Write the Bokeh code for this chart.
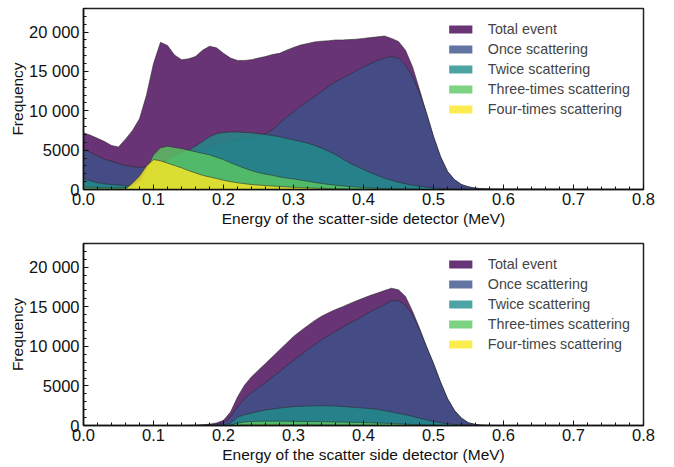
import numpy as np
from bokeh.plotting import figure
from bokeh.layouts import column
from bokeh.models import FixedTicker, NumeralTickFormatter, Legend, LegendItem, Range1d
from bokeh.embed import file_html
from bokeh.resources import INLINE

# Energy bins (MeV)
energy = [round(0.01 * i, 2) for i in range(81)]

series_names = ["Total event", "Once scattering", "Twice scattering",
                "Three-times scattering", "Four-times scattering"]
series_colors = ["#440154", "#3B518A", "#208F8C", "#5BC862", "#FDE724"]

# ---- top panel: scatter-side detector ----
top_total = [7200, 6900, 6500, 6100, 5600, 5400, 6400, 7500, 9000, 12000,
             16000, 18700, 18300, 17100, 16500, 16600, 16900, 17700, 18200, 18000,
             17300, 16700, 16400, 16400, 16500, 16700, 16900, 17150, 17300, 17700,
             18050, 18350, 18550, 18750, 18850, 18900, 19000, 19000, 19050, 19100,
             19200, 19300, 19400, 19500, 19200, 18800, 17700, 15600, 12700, 9700,
             6750, 4200, 2300, 1250, 630, 340, 170, 100, 70, 55,
             45, 40, 38, 35, 32, 30, 28, 26, 24, 22,
             20, 18, 16, 14, 12, 10, 9, 8, 7, 6, 5]
top_once = [5200, 4700, 4250, 3850, 3600, 3300, 3050, 2900, 2800, 2900,
            3100, 3400, 3700, 4000, 4300, 4600, 4900, 5200, 5500, 5800,
            6000, 6200, 6350, 6500, 6650, 6850, 7100, 7600, 8400, 9200,
            9900, 10550, 11200, 11800, 12450, 13100, 13700, 14150, 14600, 15100,
            15600, 16000, 16400, 16700, 16900, 16700, 15800, 14350, 12250, 9700,
            6700, 4150, 2280, 1240, 620, 330, 165, 95, 65, 50,
            42, 38, 35, 32, 30, 28, 26, 24, 22, 20,
            18, 16, 14, 12, 11, 10, 9, 8, 7, 6, 5]
top_twice = [1400, 1100, 850, 720, 630, 560, 500, 450, 450, 900,
             1900, 3000, 3800, 4300, 4700, 5000, 5500, 6100, 6700, 7100,
             7250, 7300, 7300, 7250, 7200, 7100, 7000, 6850, 6700, 6500,
             6300, 6100, 5900, 5600, 5270, 4850, 4430, 3900, 3380, 2950,
             2530, 2150, 1770, 1450, 1180, 920, 720, 550, 420, 300,
             210, 140, 80, 50, 30, 20, 10, 5, 3, 2,
             0, 0, 0, 0, 0, 0, 0, 0, 0, 0,
             0, 0, 0, 0, 0, 0, 0, 0, 0, 0, 0]
top_three = [300, 280, 260, 240, 220, 220, 250, 450, 1100, 2600,
             4400, 5300, 5500, 5350, 5200, 5000, 4800, 4600, 4400, 4100,
             3800, 3400, 3050, 2700, 2400, 2150, 1950, 1800, 1600, 1450,
             1350, 1200, 1050, 900, 760, 650, 550, 460, 380, 310,
             250, 200, 160, 120, 80, 60, 40, 25, 15, 10,
             5, 0, 0, 0, 0, 0, 0, 0, 0, 0,
             0, 0, 0, 0, 0, 0, 0, 0, 0, 0,
             0, 0, 0, 0, 0, 0, 0, 0, 0, 0, 0]
top_four = [50, 45, 40, 35, 30, 30, 50, 800, 1700, 3000,
            3800, 3650, 3350, 3050, 2750, 2400, 2100, 1800, 1600, 1400,
            1180, 1000, 850, 740, 630, 560, 500, 440, 380, 330,
            280, 240, 200, 170, 140, 110, 90, 70, 55, 40,
            30, 20, 15, 10, 5, 0, 0, 0, 0, 0,
            0, 0, 0, 0, 0, 0, 0, 0, 0, 0,
            0, 0, 0, 0, 0, 0, 0, 0, 0, 0,
            0, 0, 0, 0, 0, 0, 0, 0, 0, 0, 0]

# ---- bottom panel: scatter side detector ----
bot_total = [0, 0, 0, 0, 0, 0, 0, 0, 0, 0,
             0, 0, 0, 0, 0, 5, 30, 85, 170, 320,
             650, 1700, 3600, 5100, 6150, 7000, 7850, 8700, 9550, 10400,
             11250, 11950, 12600, 13250, 13800, 14250, 14650, 15000, 15400, 15750,
             16100, 16450, 16750, 17050, 17350, 17150, 16300, 14450, 12300, 9980,
             7850, 5500, 3400, 1900, 930, 340, 130, 40, 15, 5,
             0, 0, 0, 0, 0, 0, 0, 0, 0, 0,
             0, 0, 0, 0, 0, 0, 0, 0, 0, 0, 0]
bot_once = [0, 0, 0, 0, 0, 0, 0, 0, 0, 0,
            0, 0, 0, 0, 0, 3, 20, 60, 110, 170,
            340, 1060, 2340, 3400, 4160, 4760, 5430, 6160, 6790, 7560,
            8200, 8920, 9550, 10190, 10830, 11340, 11890, 12400, 12950, 13370,
            13880, 14380, 14850, 15300, 15750, 15800, 15200, 14010, 12100, 9950,
            7830, 5490, 3390, 1890, 925, 338, 128, 38, 14, 5,
            0, 0, 0, 0, 0, 0, 0, 0, 0, 0,
            0, 0, 0, 0, 0, 0, 0, 0, 0, 0, 0]
bot_twice = [0, 0, 0, 0, 0, 0, 0, 0, 0, 0,
             0, 0, 0, 0, 0, 0, 0, 0, 5, 20,
             80, 300, 1060, 1360, 1570, 1780, 1950, 2080, 2200, 2300,
             2380, 2420, 2460, 2490, 2500, 2490, 2460, 2400, 2340, 2270,
             2200, 2120, 2040, 1880, 1700, 1530, 1360, 1150, 930, 720,
             510, 340, 210, 130, 85, 40, 15, 5, 0, 0,
             0, 0, 0, 0, 0, 0, 0, 0, 0, 0,
             0, 0, 0, 0, 0, 0, 0, 0, 0, 0, 0]
bot_three = [0, 0, 0, 0, 0, 0, 0, 0, 0, 0,
             0, 0, 0, 0, 0, 0, 0, 0, 0, 0,
             10, 50, 300, 450, 500, 530, 550, 550, 550, 540,
             530, 520, 510, 500, 490, 470, 450, 430, 410, 390,
             370, 340, 310, 280, 250, 210, 170, 130, 90, 60,
             40, 20, 10, 0, 0, 0, 0, 0, 0, 0,
             0, 0, 0, 0, 0, 0, 0, 0, 0, 0,
             0, 0, 0, 0, 0, 0, 0, 0, 0, 0, 0]
bot_four = [0, 0, 0, 0, 0, 0, 0, 0, 0, 0,
            0, 0, 0, 0, 0, 0, 0, 0, 0, 0,
            0, 10, 30, 70, 80, 80, 80, 80, 80, 75,
            75, 70, 70, 65, 60, 55, 50, 45, 40, 35,
            30, 28, 25, 22, 20, 15, 10, 5, 0, 0,
            0, 0, 0, 0, 0, 0, 0, 0, 0, 0,
            0, 0, 0, 0, 0, 0, 0, 0, 0, 0,
            0, 0, 0, 0, 0, 0, 0, 0, 0, 0, 0]

x_ticks = [0.0, 0.1, 0.2, 0.3, 0.4, 0.5, 0.6, 0.7, 0.8]
x_minor = [round(0.02 * i, 2) for i in range(41)]
y_ticks = [0, 5000, 10000, 15000, 20000]
y_minor = list(range(0, 23001, 1000))
y_labels = {0: "0", 5000: "5000", 10000: "10 000", 15000: "15 000", 20000: "20 000"}

FONT = "Liberation Sans"


def make_panel(series, xlabel, border_top, border_bottom, frame_h):
    p = figure(frame_width=560, frame_height=frame_h, output_backend="svg",
               toolbar_location=None, x_range=Range1d(0, 0.8), y_range=Range1d(0, 23000),
               min_border_left=83, min_border_right=15,
               min_border_top=border_top, min_border_bottom=border_bottom)
    p.xgrid.visible = False
    p.ygrid.visible = False
    p.outline_line_color = "#222222"
    p.outline_line_width = 1.5
    p.background_fill_color = "white"

    items = []
    for name, color, vals in zip(series_names, series_colors, series):
        a = p.varea(x=energy, y1=[0] * len(energy), y2=vals,
                    fill_color=color, fill_alpha=0.8)
        p.line(x=energy, y=vals, line_color="#2a2a2a", line_width=0.8, line_alpha=0.7)
        items.append(LegendItem(label=name, renderers=[a]))

    legend = Legend(items=items, location="top_right", margin=3, padding=10,
                    glyph_width=29, glyph_height=10, label_height=10,
                    label_standoff=13, spacing=4,
                    label_text_font=FONT, label_text_font_size="14.3px",
                    background_fill_alpha=0, border_line_alpha=0)
    p.add_layout(legend, "center")

    for ax in (p.xaxis[0], p.yaxis[0]):
        ax.major_tick_in = 5
        ax.major_tick_out = 0
        ax.minor_tick_in = 3
        ax.minor_tick_out = 0
        ax.axis_line_width = 1.5
        ax.axis_line_color = "#111111"
        ax.major_tick_line_color = "#111111"
        ax.minor_tick_line_color = "#111111"
        ax.major_label_text_font = FONT
        ax.major_label_text_font_size = "16.5px"
        ax.major_label_text_color = "#111111"
        ax.axis_label_text_font = FONT
        ax.axis_label_text_font_size = "15.5px"
        ax.axis_label_text_font_style = "normal"
        ax.axis_label_text_color = "#111111"
        ax.major_label_standoff = 3
        ax.axis_label_standoff = 2

    p.xaxis.ticker = FixedTicker(ticks=x_ticks, minor_ticks=x_minor)
    p.xaxis.formatter = NumeralTickFormatter(format="0.0")
    p.xaxis.axis_label = xlabel
    p.yaxis.ticker = FixedTicker(ticks=y_ticks, minor_ticks=y_minor)
    p.yaxis.major_label_overrides = y_labels
    p.yaxis.axis_label = "Frequency"
    p.yaxis.major_label_standoff = 4
    p.yaxis.axis_label_standoff = 0
    return p


p1 = make_panel([top_total, top_once, top_twice, top_three, top_four],
                "Energy of the scatter-side detector (MeV)", 8, 45, 181)
p2 = make_panel([bot_total, bot_once, bot_twice, bot_three, bot_four],
                "Energy of the scatter side detector (MeV)", 9, 36, 182)

layout = column(p1, p2, spacing=0)
open("out.html", "w").write(file_html(layout, INLINE))
